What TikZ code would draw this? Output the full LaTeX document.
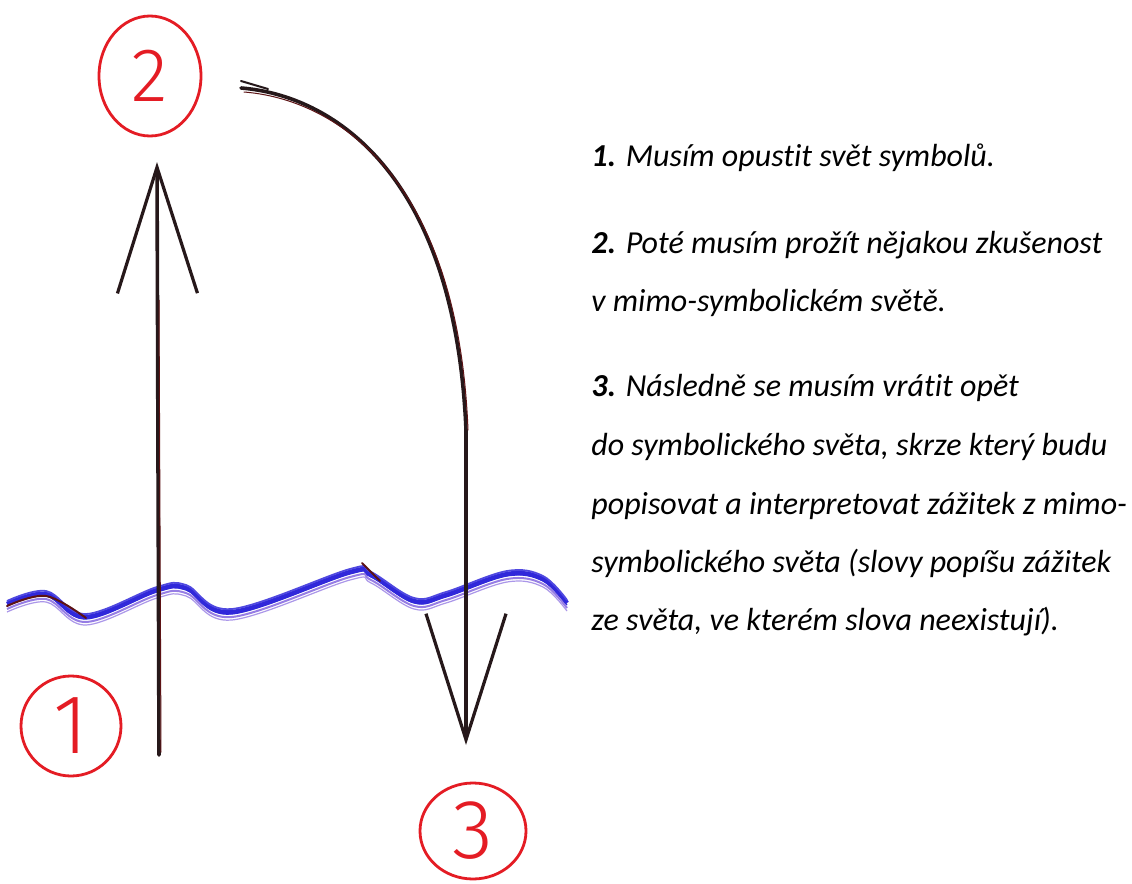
\documentclass[tikz,border=0pt]{standalone}
\usepackage{fontspec}
\setmainfont{Carlito}[Ligatures=NoCommon]
\newfontfamily\handfont{Fira Sans Light}
\usetikzlibrary{arrows.meta,shapes.geometric}
\definecolor{skink}{RGB}{38,24,26}
\definecolor{skred}{RGB}{228,28,36}
\definecolor{skblue}{RGB}{48,40,218}
\definecolor{skviolet}{RGB}{150,125,228}

\begin{document}
\begin{tikzpicture}[
    x=0.5pt, y=-0.5pt,
    % numbered stations are red hand-drawn rings
    station/.style={
        ellipse,
        draw=skred,
        line width=1.4pt,
        text=skred,
        inner sep=0pt
    },
    pen/.style={draw=skink, line width=1.8pt, line cap=round},
    penarrow/.style={
        pen,
        -{Straight Barb[length=63pt, width=40pt, line width=1.6pt]}
    },
    sketch/.style={draw=skink!75!red, line width=0.5pt, line cap=round},
    steptext/.style={
        anchor=base west,
        inner sep=0pt,
        text=black,
        font=\fontsize{16}{20}\selectfont\itshape
    }
]
    \path[use as bounding box, fill=white] (0,0) rectangle (1132,884);

    \node[station, minimum width=51pt, minimum height=60pt,
        font=\handfont\fontsize{38}{38}\selectfont] (st2) at (150,76) {2};
    \node[station, minimum width=50pt, minimum height=50pt,
        font=\handfont\fontsize{42}{42}\selectfont] (st1) at (71,726) {1};
    \node[station, minimum width=53pt, minimum height=48pt,
        font=\handfont\fontsize{42}{42}\selectfont] (st3) at (473,831) {3};

    \coordinate (upfoot) at (159,755);
    \coordinate (uptip) at (157,162);
    \coordinate (arcstart) at (241,88);
    \coordinate (downtip) at (466,745);

    % wavy border between the two worlds
    \foreach \dy/\tone/\lw in {0/skblue/2.2pt, 5/skviolet/1pt, -3/skblue!85/0.9pt,
                              8/skviolet!80/0.6pt, 2/skblue/0.6pt} {
        \draw[draw=\tone, line width=\lw, shift={(0,\dy)}]
            plot[smooth, tension=0.6] coordinates {
                (7,604) (46,594) (86,617) (157,590) (186,588) (232,612)
                (350,572) (371,575) (414,601) (446,595) (507,574) (543,579)
                (567,603)};
    }
    \draw[sketch, line width=1pt] plot[smooth, tension=0.6]
        coordinates {(7,606) (46,596) (86,618)};
    \draw[sketch, line width=0.9pt] (362,563) -- (380,581);

    \draw[penarrow] (upfoot) -- (uptip);
    \draw[sketch] (161,752) -- (159,300);

    \draw[penarrow] (arcstart) .. controls (330,95) and (455,170) .. (466,430)
        -- (downtip);
    \draw[sketch] (244,92) .. controls (333,99) and (458,174) .. (468,430);
    \draw[pen, line width=1pt] (241,81) -- (268,89);

    \node[steptext] (step1) at (591,166) {\textbf{1.} Musím opustit svět symbolů.};
    \node[steptext] (step2a) at (591,253) {\textbf{2.} Poté musím prožít nějakou zkušenost};
    \node[steptext] (step2b) at (591,311) {v mimo-symbolickém světě.};
    \node[steptext] (step3a) at (591,396) {\textbf{3.} Následně se musím vrátit opět};
    \node[steptext] (step3b) at (591,455) {do symbolického světa, skrze který budu};
    \node[steptext] (step3c) at (591,514) {popisovat a interpretovat zážitek z mimo-};
    \node[steptext] (step3d) at (591,572) {symbolického světa (slovy popíšu zážitek};
    \node[steptext] (step3e) at (591,630) {ze světa, ve kterém slova neexistují).};
\end{tikzpicture}
\end{document}
